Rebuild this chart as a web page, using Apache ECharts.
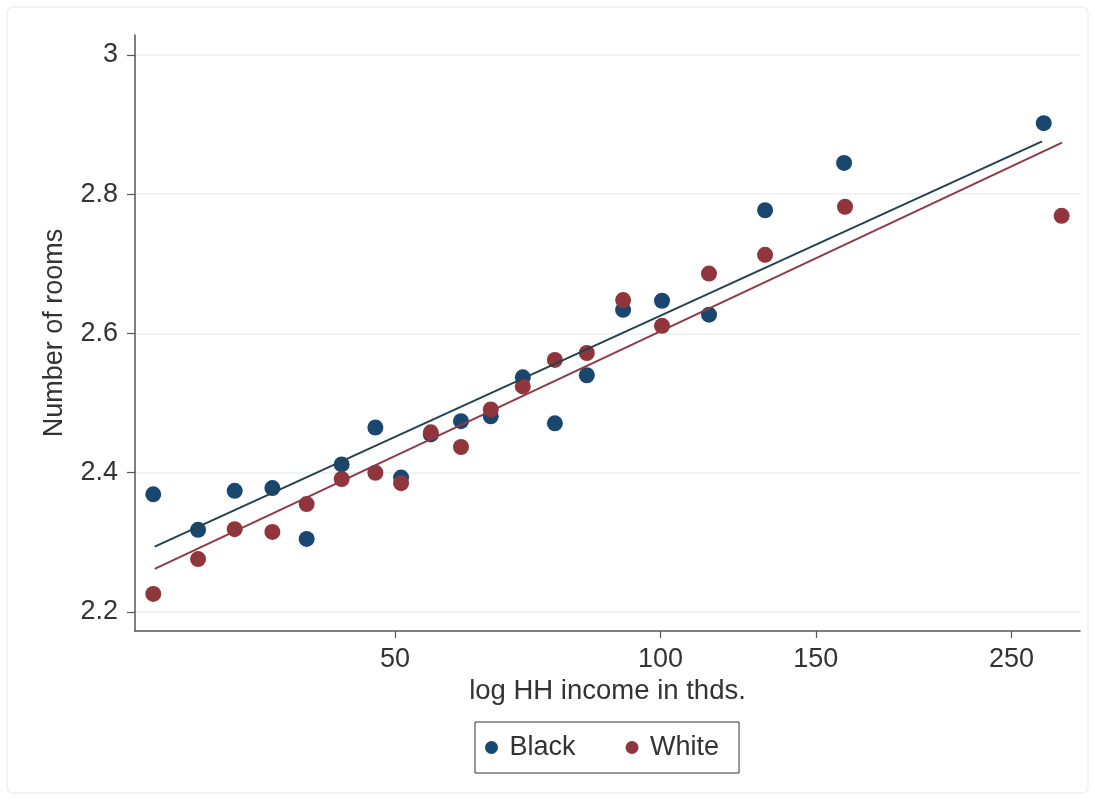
<!DOCTYPE html>
<html>
<head>
<meta charset="utf-8">
<script src="https://cdn.jsdelivr.net/npm/echarts@6/dist/echarts.min.js"></script>
<style>
  html, body { margin: 0; padding: 0; background: #ffffff; }
  #chart { width: 1095px; height: 800px; }
</style>
</head>
<body>
<div id="chart"></div>
<script>
// ---- data ----
const seriesNames = ['Black', 'White'];
const xTickValues = [50, 100, 150, 250];
const yTickValues = [2.2, 2.4, 2.6, 2.8, 3];

const blackIncome = [26.6, 29.9, 32.9, 36.3, 39.7, 43.5, 47.5, 50.8, 54.9, 59.4, 64.2, 69.8, 75.9, 82.5, 90.7, 100.4, 113.5, 131.4, 161.5, 272];
const blackRooms  = [2.369, 2.318, 2.374, 2.378, 2.305, 2.412, 2.465, 2.393, 2.455, 2.474, 2.481, 2.537, 2.471, 2.540, 2.634, 2.647, 2.627, 2.777, 2.845, 2.902];

const whiteIncome = [26.6, 29.9, 32.9, 36.3, 39.7, 43.5, 47.5, 50.8, 54.9, 59.4, 64.2, 69.8, 75.9, 82.5, 90.7, 100.4, 113.5, 131.4, 161.9, 285];
const whiteRooms  = [2.226, 2.276, 2.319, 2.315, 2.355, 2.391, 2.400, 2.385, 2.458, 2.437, 2.491, 2.524, 2.562, 2.572, 2.648, 2.611, 2.686, 2.713, 2.782, 2.769];

// fitted-line endpoints (income, rooms)
const blackFitIncome = [26.7, 270.8];
const blackFitRooms  = [2.294, 2.876];
const whiteFitIncome = [26.7, 285.3];
const whiteFitRooms  = [2.262, 2.874];

const xRange = [25.36, 299.0];
const yRange = [2.1727, 3.0287];

// ---- chart ----
const zip = (a, b) => a.map((v, i) => [v, b[i]]);
const navy = '#1a476f';
const maroon = '#90353b';
const font = '"Liberation Sans", Arial, sans-serif';
const textColor = '#333333';

const chart = echarts.init(document.getElementById('chart'), null, { renderer: 'canvas' });
chart.setOption({
  backgroundColor: '#ffffff',
  animation: false,
  graphic: [{
    type: 'rect',
    shape: { x: 7, y: 7, width: 1081, height: 786, r: 6 },
    style: { fill: 'none', stroke: '#f0f0f0', lineWidth: 1.5 },
    silent: true
  }],
  grid: { left: 135, right: 15, top: 35, bottom: 169, containLabel: false },
  legend: {
    data: seriesNames,
    left: 475,
    top: 722,
    orient: 'horizontal',
    icon: 'circle',
    itemWidth: 26,
    itemHeight: 13,
    itemGap: 50,
    padding: [12, 20, 12, 10],
    borderColor: '#333333',
    borderWidth: 1,
    textStyle: { fontFamily: font, fontSize: 27, color: textColor }
  },
  xAxis: {
    type: 'log',
    logBase: 10,
    min: xRange[0],
    max: xRange[1],
    name: 'log HH income in thds.',
    nameLocation: 'middle',
    nameGap: 46,
    nameTextStyle: { fontFamily: font, fontSize: 27.5, color: textColor },
    axisLine: { show: true, lineStyle: { color: '#555555', width: 1.5 } },
    axisTick: { show: true, length: 7, customValues: xTickValues, lineStyle: { color: '#555555', width: 1.2 } },
    axisLabel: { customValues: xTickValues, fontFamily: font, fontSize: 27, color: textColor, margin: 15,
                 formatter: v => String(Math.round(v)) },
    splitLine: { show: false },
    minorTick: { show: false },
    minorSplitLine: { show: false }
  },
  yAxis: {
    type: 'value',
    min: yRange[0],
    max: yRange[1],
    name: 'Number of rooms',
    nameLocation: 'middle',
    nameGap: 67,
    nameRotate: 90,
    nameTextStyle: { fontFamily: font, fontSize: 27, color: textColor },
    axisLine: { show: true, lineStyle: { color: '#555555', width: 1.5 } },
    axisTick: { show: true, length: 8, customValues: yTickValues, lineStyle: { color: '#555555', width: 1.2 } },
    axisLabel: { customValues: yTickValues, fontFamily: font, fontSize: 27, color: textColor, margin: 17,
                 formatter: v => String(Math.round(v * 10) / 10) },
    splitLine: { show: true, lineStyle: { color: '#eaeff0', width: 1.5 } }
  },
  series: [
    {
      name: 'Black', type: 'scatter', symbol: 'circle', symbolSize: 16,
      itemStyle: { color: navy, opacity: 1 },
      data: zip(blackIncome, blackRooms), z: 3
    },
    {
      name: 'White', type: 'scatter', symbol: 'circle', symbolSize: 16,
      itemStyle: { color: maroon, opacity: 1 },
      data: zip(whiteIncome, whiteRooms), z: 4
    },
    {
      name: 'Black fit', type: 'line', showSymbol: false, symbol: 'none',
      lineStyle: { color: '#23424f', width: 2 },
      data: zip(blackFitIncome, blackFitRooms), z: 5
    },
    {
      name: 'White fit', type: 'line', showSymbol: false, symbol: 'none',
      lineStyle: { color: '#8d3a46', width: 2 },
      data: zip(whiteFitIncome, whiteFitRooms), z: 5
    }
  ]
});
</script>
</body>
</html>
